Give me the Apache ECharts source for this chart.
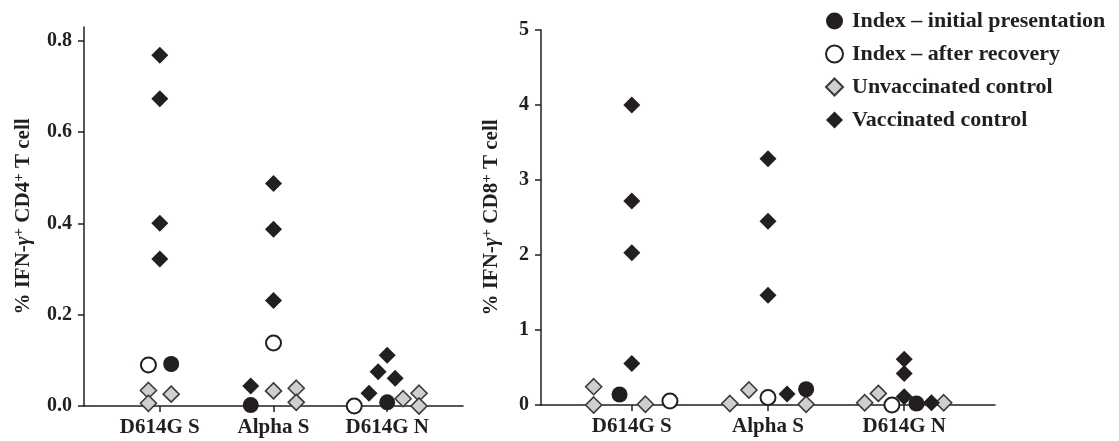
<!DOCTYPE html>
<html>
<head>
<meta charset="utf-8">
<script src="https://cdn.jsdelivr.net/npm/echarts@6/dist/echarts.min.js"></script>
<style>
html,body{margin:0;padding:0;background:#fff;}
#chart{width:1119px;height:441px;}
</style>
</head>
<body>
<div id="chart"></div>
<script>
// ---- data ----
const categories = ['D614G S', 'Alpha S', 'D614G N'];
const seriesNames = ['Index \u2013 initial presentation', 'Index \u2013 after recovery', 'Unvaccinated control', 'Vaccinated control'];
const cd4Ticks = [0, 0.2, 0.4, 0.6, 0.8];
const cd8Ticks = [0, 1, 2, 3, 4, 5];
// x = category position (1,2,3) + horizontal jitter
const cd4Initial  = [[1.10, 0.092], [1.80, 0.002], [3.00, 0.008]];
const cd4Recovery = [[0.90, 0.090], [2.00, 0.138], [2.71, 0.000]];
const cd4Unvacc   = [[0.90, 0.034], [0.90, 0.006], [1.10, 0.026],
                     [2.00, 0.033], [2.20, 0.039], [2.20, 0.008],
                     [3.14, 0.016], [3.28, 0.028], [3.28, 0.000]];
const cd4Vacc     = [[1.00, 0.768], [1.00, 0.673], [1.00, 0.400], [1.00, 0.322],
                     [2.00, 0.487], [2.00, 0.387], [2.00, 0.231], [1.80, 0.044],
                     [2.84, 0.028], [2.92, 0.075], [3.00, 0.111], [3.07, 0.061]];
const cd8Initial  = [[0.91, 0.14], [2.28, 0.21], [3.09, 0.02]];
const cd8Recovery = [[1.28, 0.053], [2.00, 0.10], [2.91, 0.00]];
const cd8Unvacc   = [[0.72, 0.244], [0.72, 0.00], [1.10, 0.01],
                     [1.72, 0.02], [1.86, 0.20], [2.28, 0.01],
                     [2.71, 0.03], [2.81, 0.155], [3.29, 0.03]];
const cd8Vacc     = [[1.00, 4.00], [1.00, 2.72], [1.00, 2.03], [1.00, 0.555],
                     [2.00, 3.285], [2.00, 2.45], [2.00, 1.465], [2.14, 0.146],
                     [3.00, 0.61], [3.00, 0.42], [3.00, 0.11], [3.20, 0.03]];

// ---- styles ----
const INK = '#231f20';
const FONT = '"Liberation Serif", "Times New Roman", serif';
const styles = [
  { symbol: 'circle', symbolSize: 16, itemStyle: { color: INK, borderColor: INK, borderWidth: 0, opacity: 1 } },
  { symbol: 'circle', symbolSize: 15, itemStyle: { color: '#ffffff', borderColor: INK, borderWidth: 2, opacity: 1 } },
  { symbol: 'diamond', symbolSize: 16, itemStyle: { color: '#cfcfcf', borderColor: '#3a3a3a', borderWidth: 1.6, opacity: 1 } },
  { symbol: 'diamond', symbolSize: 17, itemStyle: { color: INK, borderColor: INK, borderWidth: 0, opacity: 1 } }
];
const drawOrder = [2, 3, 1, 0]; // circles drawn above diamonds

function xAxis(gridIndex) {
  return {
    type: 'value', gridIndex, min: 0.3333, max: 3.6667,
    splitLine: { show: false },
    axisLine: { show: true, onZero: false, lineStyle: { color: INK, width: 1.5 } },
    axisTick: { show: true, length: 6, customValues: [1, 2, 3], lineStyle: { color: INK, width: 1.5 } },
    axisLabel: {
      customValues: [1, 2, 3], margin: 11,
      formatter: v => categories[Math.round(v) - 1],
      color: INK, fontFamily: FONT, fontWeight: 'bold', fontSize: 21
    }
  };
}
function yAxis(gridIndex, max, interval, ticks, digits, title, gap) {
  return {
    type: 'value', gridIndex, min: 0, max, interval,
    splitLine: { show: false },
    axisLine: { show: true, lineStyle: { color: INK, width: 1.5 } },
    axisTick: { show: true, length: 6, customValues: ticks, lineStyle: { color: INK, width: 1.5 } },
    axisLabel: {
      customValues: ticks, margin: 12,
      formatter: v => Number(v).toFixed(digits),
      color: INK, fontFamily: FONT, fontWeight: 'bold', fontSize: 20
    },
    name: title, nameLocation: 'middle', nameGap: gap, nameRotate: 90,
    nameTextStyle: {
      rich: {
        t: { fontFamily: FONT, fontWeight: 'bold', fontSize: 21, color: INK, lineHeight: 24 },
        g: { fontFamily: FONT, fontWeight: 'bold', fontStyle: 'italic', fontSize: 21, color: INK, lineHeight: 24 },
        s: { fontFamily: FONT, fontWeight: 'bold', fontSize: 15, color: INK, lineHeight: 15, verticalAlign: 'top' }
      }
    }
  };
}

const panels = [cd4Initial, cd4Recovery, cd4Unvacc, cd4Vacc];
const panels8 = [cd8Initial, cd8Recovery, cd8Unvacc, cd8Vacc];
const series = [];
[panels, panels8].forEach((p, gi) => {
  drawOrder.forEach(k => {
    series.push(Object.assign({
      type: 'scatter', name: seriesNames[k], xAxisIndex: gi, yAxisIndex: gi,
      data: p[k], clip: false, silent: true, z: 2 + drawOrder.indexOf(k)
    }, styles[k]));
  });
});

const chart = echarts.init(document.getElementById('chart'), null, { renderer: 'canvas' });
chart.setOption({
  animation: false,
  backgroundColor: '#ffffff',
  grid: [
    { left: 84, right: 656, top: 27, bottom: 35 },
    { left: 541, right: 124, top: 30, bottom: 36 }
  ],
  xAxis: [xAxis(0), xAxis(1)],
  yAxis: [
    yAxis(0, 0.83, 0.2, cd4Ticks, 1, '{t|% IFN-}{g|\u03b3}{s|+}{t| CD4}{s|+}{t| T cell}', 48),
    yAxis(1, 5, 1, cd8Ticks, 0, '{t|% IFN-}{g|\u03b3}{s|+}{t| CD8}{s|+}{t| T cell}', 37)
  ],
  legend: {
    data: seriesNames,
    orient: 'vertical', left: 820, top: 5,
    itemWidth: 17, itemHeight: 17, itemGap: 11,
    selectedMode: false,
    textStyle: { color: INK, fontFamily: FONT, fontWeight: 'bold', fontSize: 22, padding: [0, 0, 0, 4] }
  },
  series
});
</script>
</body>
</html>
